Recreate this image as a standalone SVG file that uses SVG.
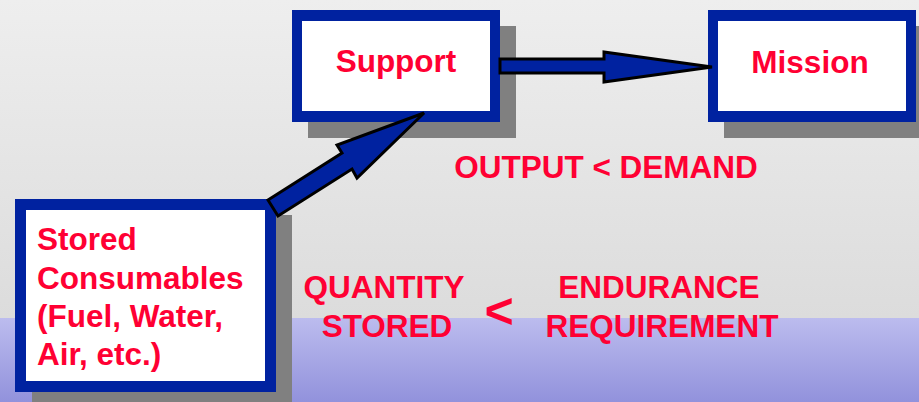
<svg xmlns="http://www.w3.org/2000/svg" width="919" height="402" viewBox="0 0 919 402">
<defs>
<linearGradient id="bgTop" x1="0" y1="0" x2="0" y2="1">
<stop offset="0" stop-color="#eeeeee"/>
<stop offset="1" stop-color="#dcdcdc"/>
</linearGradient>
<linearGradient id="bgBot" x1="0" y1="0" x2="0" y2="1">
<stop offset="0" stop-color="#bcbcee"/>
<stop offset="1" stop-color="#9292dc"/>
</linearGradient>
</defs>
<style>
.shadow{fill:#808080}
.frame{fill:#0022a0}
.inner{fill:#ffffff}
.lbl{font-family:"Liberation Sans",Arial,sans-serif;font-weight:bold;font-size:31.5px;fill:#ff0033}
.arrow{fill:#0022a0;stroke:#000000;stroke-width:3;stroke-linejoin:miter}
</style>
<rect x="0" y="0" width="919" height="318" fill="url(#bgTop)"/>
<rect x="0" y="318" width="919" height="84" fill="url(#bgBot)"/>

<g id="support">
<rect class="shadow" x="308" y="26" width="208" height="112"/>
<rect class="frame" x="292" y="10" width="208" height="112"/>
<rect class="inner" x="302" y="21" width="188" height="90"/>
<text class="lbl" x="396" y="72" text-anchor="middle">Support</text>
</g>

<g id="mission">
<rect class="shadow" x="724" y="26" width="208" height="112"/>
<rect class="frame" x="708" y="10" width="208" height="112"/>
<rect class="inner" x="718" y="21" width="188" height="90"/>
<text class="lbl" x="810" y="73" text-anchor="middle">Mission</text>
</g>

<g id="stored">
<rect class="shadow" x="32" y="215" width="260" height="200"/>
<rect class="frame" x="15" y="199" width="261" height="193"/>
<rect class="inner" x="26" y="210" width="239" height="171"/>
<text class="lbl" x="37" y="250">Stored</text>
<text class="lbl" x="37" y="289">Consumables</text>
<text class="lbl" x="37" y="327">(Fuel, Water,</text>
<text class="lbl" x="37" y="365">Air, etc.)</text>
</g>

<g id="connectors">
<polygon class="arrow" points="500,59 604,59 604,52 712,67 604,82 604,73 500,73"/>
<polygon class="arrow" points="268,200 342,153 337,145 424,113 357,178 352,169 278,216"/>
</g>

<g id="labels">
<text class="lbl" x="606" y="178" text-anchor="middle">OUTPUT &lt; DEMAND</text>
<text class="lbl" x="384" y="298" text-anchor="middle">QUANTITY</text>
<text class="lbl" x="387" y="337" text-anchor="middle">STORED</text>
<text class="lbl" x="499" y="328" text-anchor="middle" style="font-size:50px">&lt;</text>
<text class="lbl" x="659" y="298" text-anchor="middle">ENDURANCE</text>
<text class="lbl" x="662" y="337" text-anchor="middle">REQUIREMENT</text>
</g>
</svg>
